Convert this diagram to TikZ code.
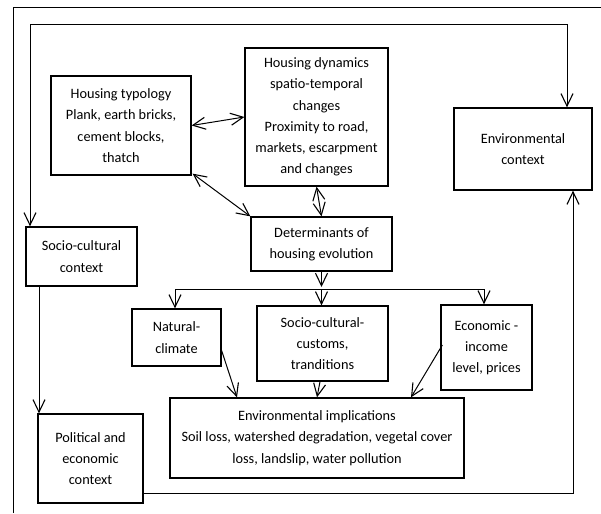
\documentclass[tikz,border=0pt]{standalone}
\usepackage{fontspec}
\setmainfont{Carlito}
\usetikzlibrary{arrows.meta,calc}
\begin{document}
\begin{tikzpicture}[x=1pt,y=-1pt,
  font=\fontsize{14.3}{21.2}\selectfont,
  box/.style={draw,line width=1.3pt,inner sep=0pt,align=center},
  tip/.tip={Straight Barb[length=12.5pt,width=12pt,line width=1.1pt]},
  arr/.style={line width=1pt,-tip},
  arr2/.style={line width=1pt,tip-tip},
  lnk/.style={line width=1pt}]
\useasboundingbox (0,0) rectangle (601,513);
% open frame
\draw[line width=1pt] (13,513) -- (13,8) -- (601,8);
% nodes
\node[box,minimum width=140pt,minimum height=99pt] (typ) at (121,125.5) {Housing typology\\Plank, earth bricks,\\cement blocks,\\thatch};
\node[box,minimum width=143pt,minimum height=138pt] (dyn) at (316.5,117) {\raisebox{-3pt}{\parbox{140pt}{\centering Housing dynamics\\spatio-temporal\\changes\\Proximity to road,\\markets, escarpment\\and changes}}};
\node[box,minimum width=138pt,minimum height=82pt] (env) at (523,149) {Environmental\\context};
\node[box,minimum width=141pt,minimum height=54pt] (det) at (321.5,244) {Determinants of\\housing evolution};
\node[box,minimum width=111pt,minimum height=59pt] (soc) at (81.5,256.5) {Socio-cultural\\context};
\node[box,minimum width=105pt,minimum height=89pt] (pol) at (90.5,458.5) {Political and\\economic\\context};
\node[box,minimum width=89pt,minimum height=57pt] (nat) at (176.5,337.5) {Natural-\\climate};
\node[box,minimum width=131pt,minimum height=75pt] (cus) at (322.5,343.5) {Socio-cultural-\\customs,\\tranditions};
\node[box,minimum width=91pt,minimum height=85pt] (eco) at (486.5,347.5) {Economic -\\income\\level, prices};
\node[box,minimum width=294pt,minimum height=80pt] (imp) at (317,438) {Environmental implications\\Soil loss, watershed degradation, vegetal cover\\loss, landslip, water pollution};
% helper coordinates
\coordinate (tl) at (30,25);
\coordinate (tr) at (567,25);
\coordinate (detend) at (321.5,287);
\coordinate (bar) at (0,289);
\coordinate (scx) at (39,300);
\coordinate (br) at (573,493);
% connectors
\draw[arr2] (typ.east) -- (dyn.west);
\draw[arr2] ([shift={(1,-2)}]typ.south east) -- (det.north west);
\draw[arr2] (dyn.south) -- (det.north);
\draw[arr2] (soc.north -| tl) -- (tl) -- (tr) -- (env.north -| tr);
\draw[arr] (soc.south -| scx) -- (pol.north -| scx);
\draw[arr] (pol.east |- br) -- (br) -- (br |- env.south);
\draw[arr] (det.south) -- (detend);
\draw[lnk] ([xshift=-1.5pt]nat.north |- bar) -- ([xshift=-2.5pt]eco.north |- bar);
\draw[arr] ([xshift=-1.5pt]nat.north |- bar) -- ([xshift=-1.5pt]nat.north);
\draw[arr] ([xshift=-1pt]cus.north |- bar) -- ([xshift=-1pt]cus.north);
\draw[arr] ([xshift=-2.5pt]eco.north |- bar) -- ([xshift=-2.5pt]eco.north);
\draw[arr] ([shift={(0,-16)}]nat.south east) -- ([shift={(-80,0)}]imp.north);
\draw[arr] ([xshift=-2.5pt]cus.south) -- (imp.north);
\draw[arr] ([shift={(2,-2.5)}]eco.west) -- ([shift={(94,0)}]imp.north);
\end{tikzpicture}
\end{document}
